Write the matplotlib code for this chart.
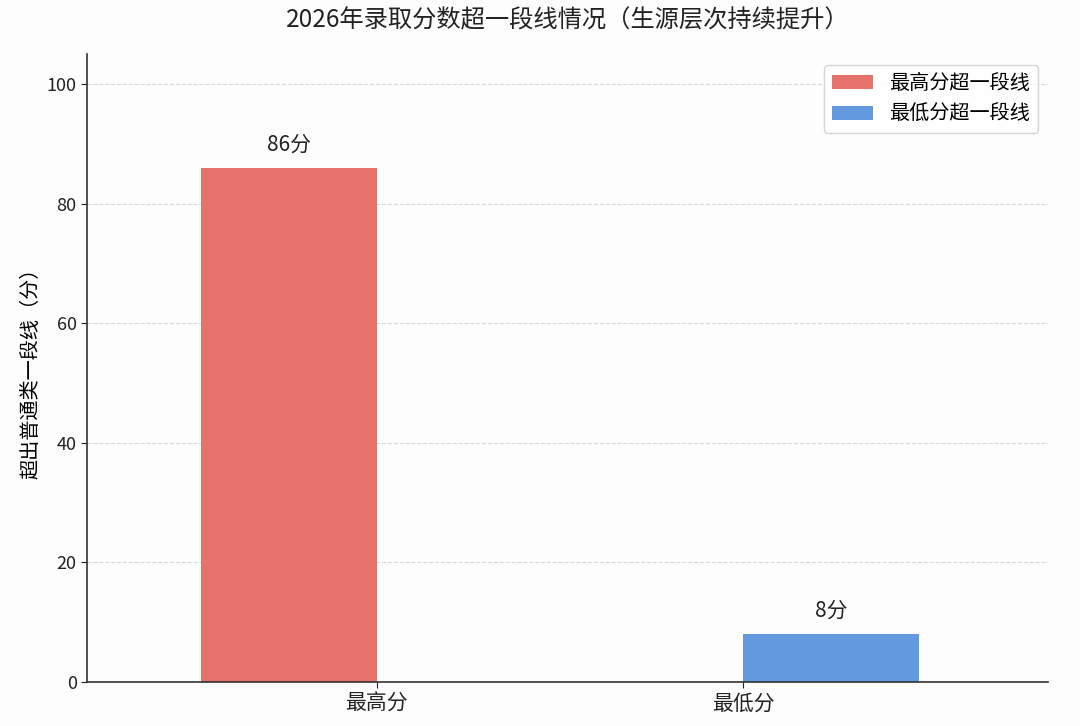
import numpy as np
import matplotlib.pyplot as plt

plt.rcParams['font.family'] = ['Noto Sans CJK SC', 'DejaVu Sans']

categories = ['最高分', '最低分']
series_names = ['最高分超一段线', '最低分超一段线']
high_vals = [86, 0]
low_vals = [0, 8]
bar_labels = ['86分', '8分']

fig = plt.figure(figsize=(10.8, 7.26), dpi=100)
fig.patch.set_facecolor('#fdfdfd')
ax = fig.add_axes([0.0806, 0.0606, 0.8894, 0.865])
ax.set_facecolor('#fdfdfd')

x = np.arange(len(categories))
w = 0.48
b1 = ax.bar(x - w / 2, high_vals, w, color='#e6736b', label=series_names[0])
b2 = ax.bar(x + w / 2, low_vals, w, color='#6399df', label=series_names[1])

ax.text(b1[0].get_x() + w / 2, high_vals[0] + 2, bar_labels[0],
        ha='center', va='bottom', fontsize=15, color='#222222')
ax.text(b2[1].get_x() + w / 2, low_vals[1] + 2, bar_labels[1],
        ha='center', va='bottom', fontsize=15, color='#222222')

ax.set_xticks(x)
ax.set_xticklabels(categories, fontsize=15)
ax.set_xlim(-0.79, 1.83)
ax.set_ylim(0, 105)
ax.set_yticks([0, 20, 40, 60, 80, 100])
ax.tick_params(axis='y', labelsize=13)
ax.tick_params(axis='both', colors='#222222', length=4)
ax.set_ylabel('超出普通类一段线（分）', fontsize=14.5)

ax.yaxis.grid(True, linestyle='--', color='#cccccc', alpha=0.7, linewidth=0.8)
ax.set_axisbelow(True)
for s in ['top', 'right']:
    ax.spines[s].set_visible(False)
for s in ['left', 'bottom']:
    ax.spines[s].set_color('#333333')
    ax.spines[s].set_linewidth(1.2)

ax.legend(loc='upper right', fontsize=14.5, frameon=True, edgecolor='#cccccc',
          handlelength=2.0, handleheight=0.7, handletextpad=0.8,
          labelspacing=0.5, borderaxespad=0,
          bbox_to_anchor=(0.9896, 0.9825))

ax.set_title('2026年录取分数超一段线情况（生源层次持续提升）', fontsize=17.5,
             pad=19, color='#222222')

fig.savefig('out.png', dpi=100, facecolor=fig.get_facecolor())
